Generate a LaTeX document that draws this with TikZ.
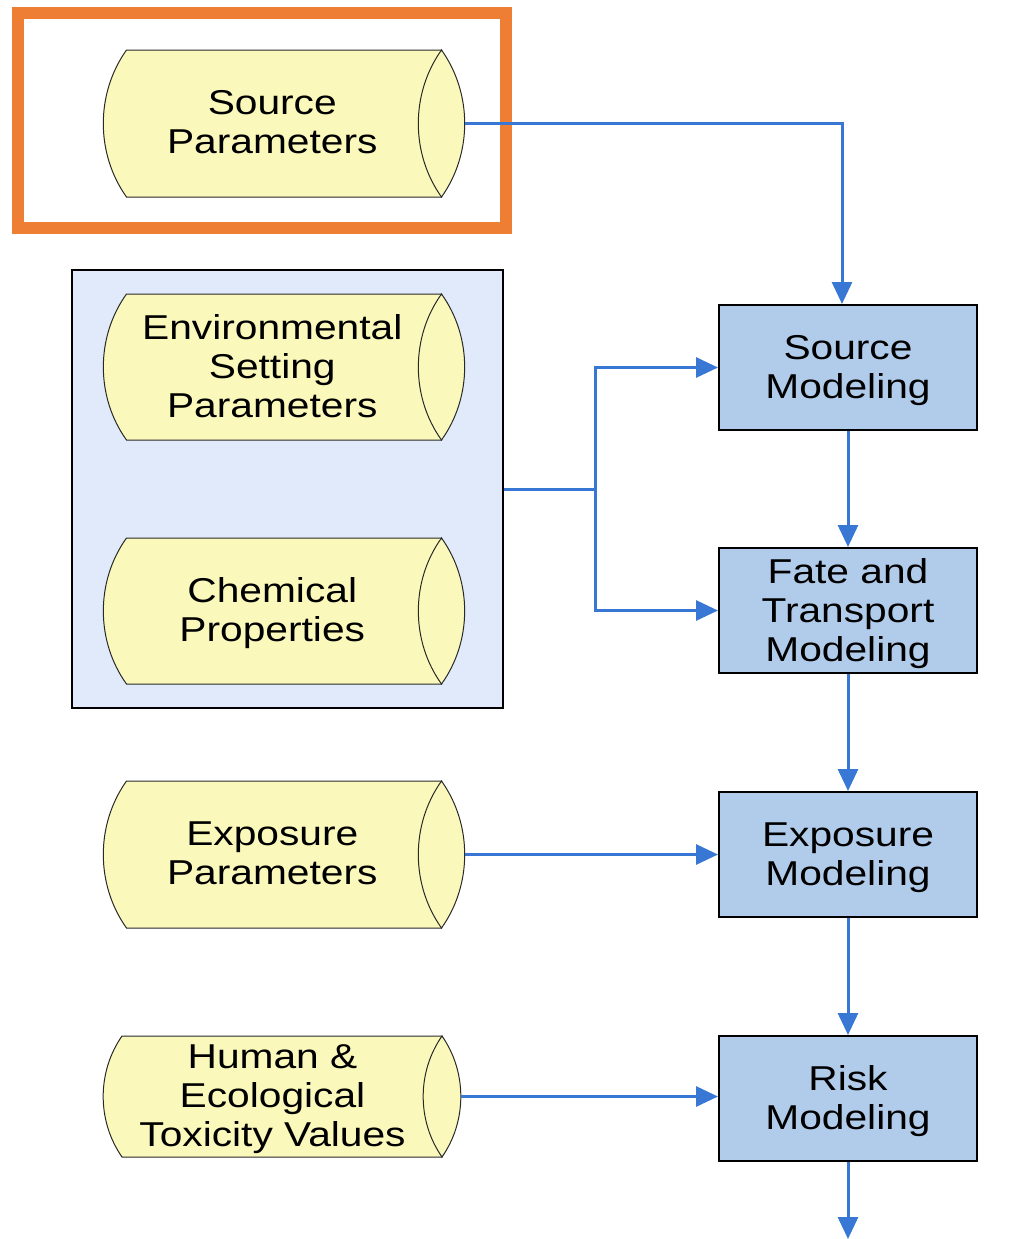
\documentclass[tikz,border=0pt]{standalone}
\usepackage{fontspec}
\setmainfont{Liberation Sans}[FakeStretch=1.18]
\usetikzlibrary{arrows.meta}

\definecolor{drumfill}{HTML}{FAF8BA}
\definecolor{drumedge}{HTML}{2A2A2A}
\definecolor{modfill}{HTML}{B1CBEA}
\definecolor{groupfill}{HTML}{E0EAFB}
\definecolor{flowblue}{HTML}{3878D4}
\definecolor{hlorange}{HTML}{EE7E33}

\tikzset{
  labelfont/.style={font=\fontsize{17.25pt}{19.5pt}\selectfont, align=center, text=black},
  drumline/.style={draw=drumedge, fill=drumfill, line width=0.5pt, looseness=0.93},
  drumtext/.style={labelfont, inner sep=0pt},
  drumframe/.style={inner sep=0pt, draw=none},
  modbox/.style={draw=black, fill=modfill, line width=1pt,
    minimum width=129pt, minimum height=62.5pt, inner sep=0pt},
  groupbox/.style={draw=black, fill=groupfill, line width=1pt,
    minimum width=215.5pt, minimum height=219pt, inner sep=0pt},
  hlframe/.style={draw=hlorange, line width=6pt,
    minimum width=244pt, minimum height=107.5pt, inner sep=0pt},
  flow/.style={draw=flowblue, line width=1.5pt,
    -{Triangle[length=11pt, width=10pt]}},
  feed/.style={draw=flowblue, line width=1.5pt}
}

% Data drum lying on its side:
% name, left x, right x, top y, bottom y, end depth, label, label offset
\newcommand{\drum}[8]{%
  \pgfmathsetmacro{\drL}{#2+#6}%
  \pgfmathsetmacro{\drR}{#3-#6}%
  \pgfmathsetmacro{\drM}{(#4+#5)/2}%
  \pgfmathsetmacro{\drH}{(#5-#4)/2}%
  \pgfmathsetmacro{\drX}{(#2+\drR)/2}%
  \pgfmathsetmacro{\drA}{2*atan(#6/\drH)}%
  \draw[drumline] (\drL,#4) -- (\drR,#4) -- (\drR,#5) -- (\drL,#5)
    to[bend left=\drA] (\drL,#4) -- cycle;
  \draw[drumline] (\drR,#4) to[bend left=\drA] (\drR,#5)
    to[bend left=\drA] (\drR,#4) -- cycle;
  \node[drumframe, minimum width={(#3-#2)*0.5pt}, minimum height={(#5-#4)*0.5pt}]
    (#1) at ({(#2+#3)/2},\drM) {};
  \node[drumtext] (#1-label) at (\drX,\drM+#8) {#7};
}

% Modeling step: name, position, label
\newcommand{\modstep}[3]{%
  \node[modbox, label={[labelfont, yshift=-1.5pt]center:{#3}}] (#1) at #2 {};
}

\begin{document}
\begin{tikzpicture}[x=0.5pt, y=-0.5pt]
  \useasboundingbox (0,0) rectangle (1019,1239);

  % highlighted input
  \node[hlframe] (focus) at (262,120.5) {};

  % grouped site and chemical inputs
  \node[groupbox] (grp) at (287.5,489) {};

  % input data drums
  \drum{srcpar}{103}{465}{50}{197}{23.5}{Source\\Parameters}{-1}
  \drum{envpar}{103}{465}{294}{440}{23.5}{Environmental\\Setting\\Parameters}{-1}
  \drum{chem}{103}{465}{538}{684}{23.5}{Chemical\\Properties}{2}
  \drum{exppar}{103}{465}{781}{928}{23.5}{Exposure\\Parameters}{-1}
  \drum{tox}{103}{461}{1036}{1157}{19}{Human \&\\Ecological\\Toxicity Values}{2.5}

  % modeling chain
  \modstep{srcmod}{(848,367.5)}{Source\\Modeling}
  \modstep{fatemod}{(848,610.5)}{Fate and\\Transport\\Modeling}
  \modstep{expmod}{(848,854.5)}{Exposure\\Modeling}
  \modstep{riskmod}{(848,1098.5)}{Risk\\Modeling}

  \coordinate (split) at (595,489);
  \coordinate (result) at (848,1239);

  % connectors
  \draw[flow] (srcpar.east) -| ([xshift=-3pt]srcmod.north);
  \draw[feed] (grp.east) -- (split);
  \draw[flow] (split) |- (srcmod.west);
  \draw[flow] (split) |- (fatemod.west);
  \draw[flow] (srcmod) -- (fatemod);
  \draw[flow] (fatemod) -- (expmod);
  \draw[flow] (expmod) -- (riskmod);
  \draw[flow] (riskmod) -- (result);
  \draw[flow] (exppar.east) -- (expmod.west);
  \draw[flow] (tox.east) -- (tox.east -| riskmod.west);
\end{tikzpicture}
\end{document}
